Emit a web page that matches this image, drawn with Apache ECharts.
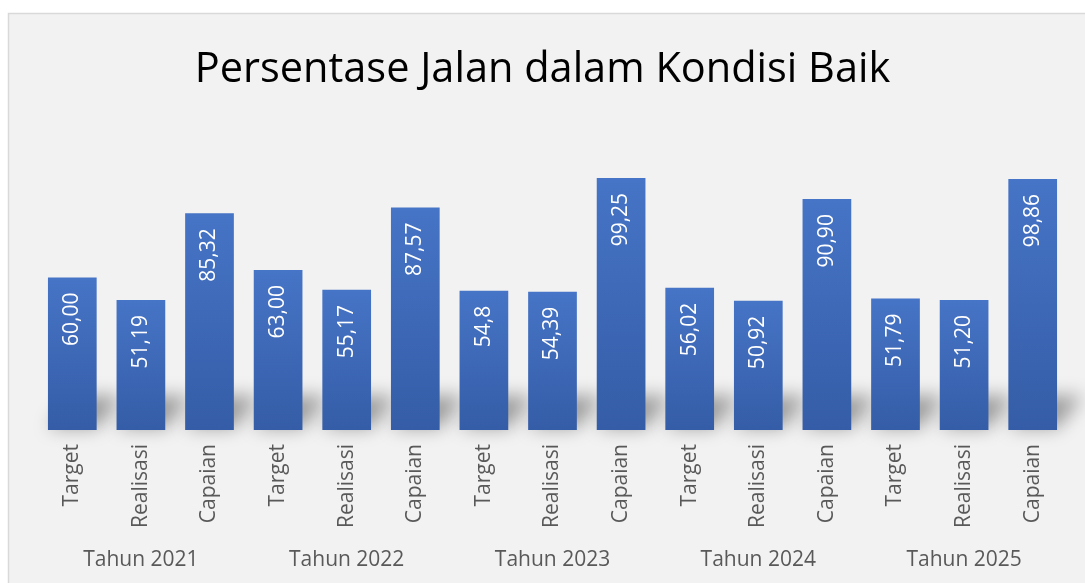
<!DOCTYPE html>
<html>
<head>
<meta charset="utf-8">
<script src="https://cdn.jsdelivr.net/npm/echarts@6/dist/echarts.min.js"></script>
<style>
  html, body { margin: 0; padding: 0; background: #ffffff; }
  #chart { width: 1085px; height: 583px; }
</style>
</head>
<body>
<div id="chart"></div>
<script>
(function(){
  // Data
  const years = ["Tahun 2021", "Tahun 2022", "Tahun 2023", "Tahun 2024", "Tahun 2025"];
  const kinds = ["Target", "Realisasi", "Capaian"];
  const values = [60.00, 51.19, 85.32, 63.00, 55.17, 87.57, 54.8, 54.39, 99.25, 56.02, 50.92, 90.90, 51.79, 51.20, 98.86];
  const valueLabels = ["60,00", "51,19", "85,32", "63,00", "55,17", "87,57", "54,8", "54,39", "99,25", "56,02", "50,92", "90,90", "51,79", "51,20", "98,86"];

  const subCategories = [];
  years.forEach(() => kinds.forEach(k => subCategories.push(k)));

  const chart = echarts.init(document.getElementById("chart"));
  const font = "'Open Sans', sans-serif";
  const barRatio = 0.71;

  const option = {
    backgroundColor: "#ffffff",
    animation: false,
    graphic: [{
      type: "rect",
      z: -10,
      shape: { x: 8.5, y: 13.5, width: 1100, height: 620 },
      style: { fill: "#f2f2f2", stroke: "#d9d9d9", lineWidth: 1.5 }
    }],
    title: {
      text: "Persentase Jalan dalam Kondisi Baik",
      left: "center",
      top: 44,
      textStyle: { fontFamily: font, fontSize: 41.5, fontWeight: "normal", color: "#000000" }
    },
    grid: { left: 38, right: 18, top: 176, bottom: 153 },
    xAxis: [{
      type: "category",
      data: subCategories,
      axisLine: { show: false },
      axisTick: { show: false },
      axisLabel: { rotate: 90, interval: 0, margin: 14, fontFamily: font, fontSize: 21, color: "#595959" }
    }, {
      type: "category",
      data: years,
      position: "bottom",
      offset: 112,
      axisLine: { show: false },
      axisTick: { show: false },
      axisLabel: { interval: 0, fontFamily: font, fontSize: 21, color: "#595959" }
    }],
    yAxis: { type: "value", min: 0, max: 100, show: false, splitLine: { show: false } },
    series: [{
      // soft ground shadow behind each bar
      type: "custom",
      z: 1,
      silent: true,
      renderItem: function(params, api) {
        const base = api.coord([api.value(0), 0]);
        const w = api.size([1, 0])[0] * barRatio;
        const x0 = base[0] - w / 2, x1 = base[0] + w / 2, y = base[1];
        const far = 3000;
        return {
          type: "polygon",
          shape: { points: [[x0 - far, y - 2], [x1 - far, y - 2], [x1 + 26 - far, y - 34], [x0 + 26 - far, y - 34]] },
          style: {
            fill: "rgba(0,0,0,0.6)",
            shadowColor: "rgba(0,0,0,0.6)",
            shadowBlur: 18,
            shadowOffsetX: far,
            shadowOffsetY: 0
          }
        };
      },
      data: values.map((v, i) => [i, v])
    }, {
      type: "bar",
      z: 3,
      data: values,
      barCategoryGap: "29%",
      itemStyle: {
        color: new echarts.graphic.LinearGradient(0, 0, 0, 1, [
          { offset: 0, color: "#4674c6" },
          { offset: 1, color: "#355da7" }
        ])
      },
      label: {
        show: true,
        position: "insideTop",
        rotate: 90,
        align: "right",
        verticalAlign: "middle",
        distance: 15,
        fontFamily: font,
        fontSize: 21,
        color: "#ffffff",
        formatter: p => valueLabels[p.dataIndex]
      }
    }]
  };

  chart.setOption(option);
  window.addEventListener("resize", () => chart.resize());
})();
</script>
</body>
</html>
